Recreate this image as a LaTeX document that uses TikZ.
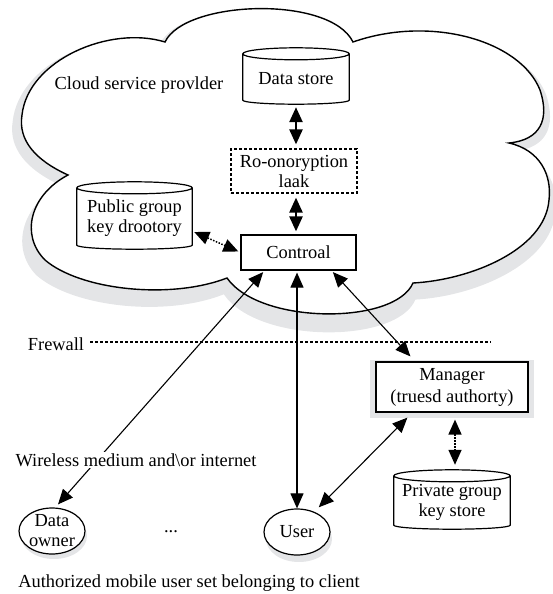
\documentclass[tikz,border=0pt]{standalone}
\usepackage{fontspec}
\setmainfont{Liberation Serif}
\usetikzlibrary{arrows.meta,calc,shapes.geometric}
\pgfdeclarelayer{bg}
\pgfsetlayers{bg,main}

\definecolor{shadowgray}{RGB}{228,229,231}

% outline of the provider cloud: six bumps meeting in sharp notches
\newcommand\cloudoutline{%
  (68,-175) .. controls (35,-160) and (18,-140) .. (22,-115)
  .. controls (28,-60) and (110,-25) .. (165,-42)
  .. controls (185,0) and (330,5) .. (353,-42)
  .. controls (430,-15) and (520,-40) .. (540,-90)
  .. controls (550,-120) and (540,-140) .. (509,-143)
  .. controls (540,-150) and (552,-175) .. (549,-200)
  .. controls (545,-250) and (470,-280) .. (413,-283)
  .. controls (395,-325) and (260,-325) .. (227,-278)
  .. controls (170,-300) and (80,-290) .. (45,-260)
  .. controls (20,-235) and (30,-195) .. (68,-175)
  -- cycle}

% drum (database) outline around a node: top ellipse above the node's north edge
\newcommand\drumshape[2][]{%
  \path[#1] let \p1=(#2.north west), \p2=(#2.south east), \p3=($(#2.north east)-(#2.north west)$) in
    (\x1,\y1) -- (\x1,\y2+4pt) arc[start angle=180,end angle=360,x radius=0.5*\x3,y radius=4pt]
    -- (\x2,\y1) arc[start angle=0,end angle=180,x radius=0.5*\x3,y radius=6pt]
    arc[start angle=180,end angle=360,x radius=0.5*\x3,y radius=6pt];
}

\begin{document}
\begin{tikzpicture}[x=1pt,y=1pt,
  lbl/.style={font=\fontsize{18.4}{20}\selectfont, inner sep=0pt, align=center},
  plainbox/.style={lbl, draw, line width=1.2pt, fill=white},
  bubble/.style={ellipse, draw, line width=1.2pt, fill=white, inner sep=0pt,
                 minimum width=66pt, minimum height=46pt, lbl},
  bothtips/.style={{Triangle[length=15pt,width=13pt]}-{Triangle[length=15pt,width=13pt]}},
  link/.style={line width=1.1pt, bothtips},
  heavylink/.style={line width=2.4pt, bothtips},
  dotlink/.style={line width=1.5pt, dash pattern=on 1.5pt off 1.5pt, bothtips},
  drumline/.style={draw, line width=1.2pt},
  softshadow/.style={fill=shadowgray},
]
\useasboundingbox (0,0) rectangle (552,-594);

% cloud with its soft shadow
\begin{scope}[shift={(-10,0.4)}, xscale=1.03, yscale=1.06]
  \path[softshadow] \cloudoutline;
\end{scope}
\path[fill=white, draw, line width=1.4pt] \cloudoutline;

% nodes
\node[lbl] (cloudlbl) at (139,-85) {Cloud service provlder};
\node[lbl, minimum width=106pt, minimum height=50pt] (ds) at (296,-79) {Data store};
\node[plainbox, dash pattern=on 3pt off 2pt, minimum width=126pt, minimum height=44pt] (re) at (294,-171) {Ro-onoryption\\laak};
\node[lbl, minimum width=115pt, minimum height=61pt] (pub) at (134.5,-218.5) {Public group\\key drootory};
\node[plainbox, minimum width=115pt, minimum height=35pt] (ctrl) at (298.5,-252.5) {Controal};
\node[lbl] (fw) at (56,-344) {Frewall};
\coordinate (fwend) at (491,-342);
\node[plainbox, minimum width=152pt, minimum height=50pt] (mgr) at (452,-387) {Manager\\[2pt](truesd authorty)};
\node[lbl, minimum width=116pt, minimum height=53pt] (priv) at (452,-502.5) {Private group\\key store};
\node[bubble] (owner) at (52,-531) {};
\node[lbl] (ownertxt) at (owner) {Data\\owner};
\node[lbl] (dots) at (171,-532) {...};
\node[bubble] (user) at (297,-532) {User};
\node[lbl] (caption) at (189,-583) {Authorized mobile user set belonging to client};

% drum outlines
\drumshape[drumline]{ds}
\drumshape[drumline]{pub}
\drumshape[drumline]{priv}

% shadows and white bodies beneath the nodes outside the cloud
\begin{pgfonlayer}{bg}
  \path[softshadow] ([xshift=-5pt,yshift=1pt]mgr.north west) rectangle ([xshift=5pt,yshift=-5pt]mgr.south east);
  \drumshape[softshadow, shift={(3,-6)}]{priv}
  \drumshape[fill=white]{priv}
  \path[softshadow] ([shift={(2,-5)}]owner.center) ellipse[x radius=33, y radius=23];
  \path[softshadow] ([shift={(2,-7)}]user.center) ellipse[x radius=33, y radius=23];
\end{pgfonlayer}

% firewall
\draw[line width=1.1pt, dash pattern=on 3pt off 2pt] ([xshift=6pt,yshift=2pt]fw.east) -- (fwend);

% connectors
\draw[heavylink, shorten <=3pt, shorten >=4pt] (ds.south) -- (ds.south |- re.north);
\draw[heavylink, shorten <=4pt, shorten >=3pt] (re.south -| ds.south) -- (ctrl.north -| ds.south);
\draw[dotlink] ([xshift=2pt,yshift=-13.5pt]pub.east) -- ([xshift=-2pt,yshift=1pt]ctrl.west);
\draw[link, shorten <=2pt] ([xshift=-34pt]ctrl.south) -- ([xshift=6pt,yshift=3pt]owner.north);
\draw[link, shorten <=2pt] (ctrl.south -| user.north) -- (user.north);
\draw[link, shorten <=2pt] ([xshift=33pt]ctrl.south) -- ([xshift=35pt,yshift=5pt]mgr.north west);
\draw[link] ([xshift=32pt,yshift=-5pt]mgr.south west) -- ([xshift=-2pt,yshift=8pt]user.north east);
\draw[dotlink, shorten <=7pt] ([xshift=3pt]mgr.south) -- ([xshift=3pt,yshift=11pt]priv.north);

% label over the wireless link
\node[lbl, fill=white, inner sep=1.5pt] (wl) at (136,-460) {Wireless medium and\textbackslash or internet};
\end{tikzpicture}
\end{document}
